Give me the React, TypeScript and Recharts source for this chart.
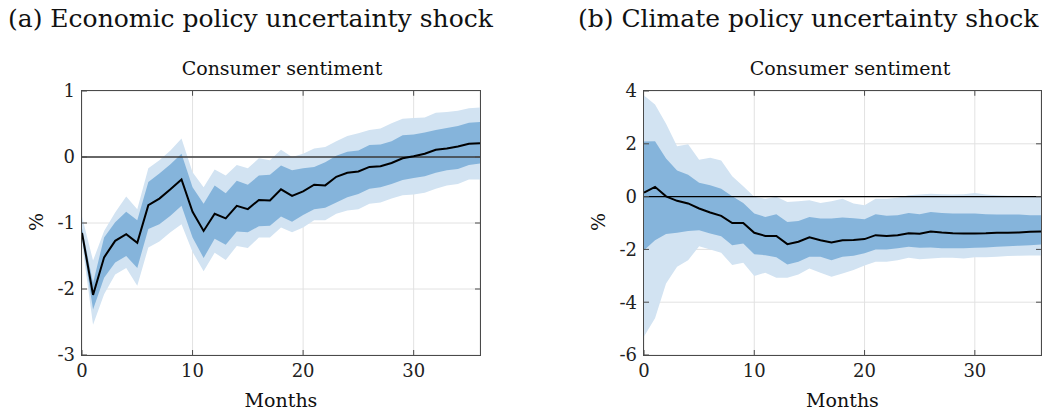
import React from 'react';
import {
  ComposedChart,
  Area,
  Line,
  XAxis,
  YAxis,
  CartesianGrid,
  ReferenceLine
} from 'recharts';

// horizon (months after the shock)
const months = [
  0, 1, 2, 3, 4, 5, 6, 7, 8, 9, 10, 11, 12, 13, 14, 15, 16, 17, 18,
  19, 20, 21, 22, 23, 24, 25, 26, 27, 28, 29, 30, 31, 32, 33, 34, 35, 36
];
const xTicks = [0, 10, 20, 30];

// (a) economic policy uncertainty shock -> consumer sentiment
const epuIrf = [-1.15, -2.09, -1.52, -1.27, -1.17, -1.30, -0.73, -0.63, -0.49, -0.34, -0.83, -1.12, -0.86, -0.93, -0.74, -0.79, -0.65, -0.66, -0.49, -0.59, -0.52, -0.42, -0.43, -0.30, -0.24, -0.22, -0.15, -0.14, -0.09, -0.02, 0.01, 0.05, 0.11, 0.13, 0.16, 0.20, 0.21];
const epuInnerHi = [-1.08, -1.91, -1.22, -0.99, -0.83, -0.96, -0.38, -0.25, -0.11, 0.05, -0.46, -0.71, -0.43, -0.55, -0.36, -0.42, -0.28, -0.27, -0.13, -0.20, -0.17, -0.15, -0.08, 0.02, 0.08, 0.10, 0.18, 0.19, 0.24, 0.33, 0.34, 0.37, 0.41, 0.44, 0.47, 0.52, 0.53];
const epuInnerLo = [-1.22, -2.31, -1.83, -1.60, -1.50, -1.68, -1.09, -1.02, -0.89, -0.74, -1.22, -1.53, -1.24, -1.33, -1.13, -1.14, -1.05, -1.04, -0.90, -0.98, -0.88, -0.79, -0.77, -0.69, -0.61, -0.56, -0.48, -0.46, -0.41, -0.35, -0.32, -0.29, -0.24, -0.20, -0.18, -0.12, -0.10];
const epuOuterHi = [-0.90, -1.57, -1.12, -0.84, -0.60, -0.79, -0.17, -0.05, 0.10, 0.28, -0.23, -0.46, -0.19, -0.28, -0.12, -0.17, -0.02, -0.05, 0.11, 0.00, 0.05, 0.13, 0.15, 0.24, 0.32, 0.36, 0.41, 0.43, 0.51, 0.58, 0.59, 0.60, 0.67, 0.68, 0.70, 0.74, 0.75];
const epuOuterLo = [-1.30, -2.54, -2.08, -1.78, -1.68, -1.95, -1.37, -1.28, -1.14, -1.02, -1.44, -1.73, -1.45, -1.56, -1.35, -1.38, -1.22, -1.22, -1.07, -1.14, -1.07, -0.96, -0.96, -0.86, -0.81, -0.79, -0.71, -0.69, -0.63, -0.58, -0.57, -0.54, -0.48, -0.43, -0.41, -0.34, -0.34];
const epuTicks = [-3, -2, -1, 0, 1];

// (b) climate policy uncertainty shock -> consumer sentiment
const cpuIrf = [0.15, 0.37, 0.01, -0.16, -0.26, -0.45, -0.60, -0.73, -1.00, -1.00, -1.37, -1.49, -1.49, -1.80, -1.71, -1.54, -1.65, -1.74, -1.65, -1.64, -1.61, -1.46, -1.49, -1.46, -1.39, -1.41, -1.32, -1.36, -1.39, -1.40, -1.40, -1.39, -1.37, -1.37, -1.36, -1.33, -1.32];
const cpuInnerHi = [2.09, 2.10, 1.44, 0.99, 0.83, 0.52, 0.43, 0.30, 0.01, -0.24, -0.64, -0.77, -0.67, -0.96, -0.92, -0.77, -0.83, -0.83, -0.79, -0.82, -0.86, -0.67, -0.73, -0.71, -0.62, -0.67, -0.58, -0.62, -0.64, -0.64, -0.64, -0.67, -0.68, -0.68, -0.68, -0.71, -0.71];
const cpuInnerLo = [-2.03, -1.65, -1.42, -1.37, -1.30, -1.27, -1.40, -1.50, -1.84, -1.78, -2.18, -2.22, -2.30, -2.57, -2.47, -2.28, -2.28, -2.41, -2.28, -2.24, -2.15, -2.00, -2.00, -1.96, -1.90, -1.94, -1.93, -1.96, -1.96, -1.96, -1.94, -1.93, -1.90, -1.88, -1.86, -1.84, -1.81];
const cpuOuterHi = [3.83, 3.49, 2.76, 1.91, 1.98, 1.40, 1.47, 1.37, 0.77, 0.39, -0.01, -0.08, -0.01, -0.20, -0.18, -0.14, -0.24, -0.18, -0.08, -0.26, -0.33, -0.08, -0.08, -0.04, 0.05, 0.08, 0.11, 0.09, 0.08, 0.09, 0.14, 0.08, 0.05, 0.03, 0.03, 0.01, 0.01];
const cpuOuterLo = [-5.30, -4.61, -3.29, -2.66, -2.41, -1.88, -2.00, -2.13, -2.59, -2.51, -3.01, -2.88, -3.07, -3.07, -2.95, -2.72, -2.88, -3.04, -2.91, -2.78, -2.61, -2.47, -2.47, -2.41, -2.32, -2.37, -2.34, -2.32, -2.32, -2.34, -2.30, -2.30, -2.28, -2.25, -2.24, -2.23, -2.23];
const cpuTicks = [-6, -4, -2, 0, 2, 4];

const buildRows = (irf: number[], innerLo: number[], innerHi: number[], outerLo: number[], outerHi: number[]) =>
  months.map((m, i) => ({
    m,
    irf: irf[i],
    inner: [innerLo[i], innerHi[i]],
    outer: [outerLo[i], outerHi[i]]
  }));

const epuData = buildRows(epuIrf, epuInnerLo, epuInnerHi, epuOuterLo, epuOuterHi);
const cpuData = buildRows(cpuIrf, cpuInnerLo, cpuInnerHi, cpuOuterLo, cpuOuterHi);

const FONT = '"DejaVu Serif", "Liberation Serif", serif';
const AXIS = '#4a4a4a';
const tickStyle = { fontFamily: FONT, fontSize: 18, fill: '#222' };

// plot areas in page pixels: left, right, top, bottom
const PLOT_TOP = 91;
const PLOT_BOTTOM = 355;

interface PanelProps {
  title: string;
  titleLeft: number;
  subCenter: number;
  gap: number;
  width: number;
  yAxisWidth: number;
  marginRight: number;
  data: ReturnType<typeof buildRows>;
  yTicks: number[];
  zeroColor: string;
}

const Panel: React.FC<PanelProps> = (p) => {
  const { gap, width, yAxisWidth, marginRight, data, yTicks, zeroColor } = p;
  const top = yTicks[yTicks.length - 1];
  const bottom = yTicks[0];
  const plotW = width - yAxisWidth - marginRight;
  return (
    <div style={{ position: 'relative', width, height: 414, marginLeft: gap, flex: 'none' }}>
      <ComposedChart
        width={width}
        height={414}
        data={data}
        margin={{ top: PLOT_TOP, right: marginRight, bottom: 0, left: 0 }}
      >
        <CartesianGrid stroke="#e2e2e2" />
        <XAxis
          dataKey="m"
          type="number"
          domain={[0, 36]}
          ticks={xTicks}
          height={414 - PLOT_BOTTOM}
          stroke={AXIS}
          axisLine={false}
          tickSize={-5}
          tickMargin={14}
          tick={tickStyle}
        />
        <YAxis
          type="number"
          domain={[bottom, top]}
          ticks={yTicks}
          width={yAxisWidth}
          stroke={AXIS}
          axisLine={false}
          tickSize={-5}
          tickMargin={12}
          tick={tickStyle}
        />
        <Area type="linear" dataKey="outer" stroke="none" fill="#d2e3f2" fillOpacity={1} isAnimationActive={false} />
        <Area type="linear" dataKey="inner" stroke="none" fill="#85b4db" fillOpacity={1} isAnimationActive={false} />
        <ReferenceLine y={0} stroke={zeroColor} strokeWidth={1.3} />
        <Line type="linear" dataKey="irf" stroke="#000" strokeWidth={2} dot={false} isAnimationActive={false} />
        {xTicks.slice(1).map((t) => (
          <ReferenceLine key={`tt${t}`} segment={[{ x: t, y: top }, { x: t, y: top - (top - bottom) * 0.018 }]} stroke={AXIS} />
        ))}
        {yTicks.slice(1, -1).map((t) => (
          <ReferenceLine key={`rt${t}`} segment={[{ x: 36, y: t }, { x: 35.55, y: t }]} stroke={AXIS} />
        ))}
      </ComposedChart>
      {/* axes box */}
      <div
        style={{
          position: 'absolute',
          left: yAxisWidth - 0.75,
          top: PLOT_TOP - 0.75,
          width: plotW + 1.5,
          height: PLOT_BOTTOM - PLOT_TOP + 1.5,
          border: `1.5px solid ${AXIS}`,
          boxSizing: 'border-box',
          pointerEvents: 'none'
        }}
      />
      <div style={{ position: 'absolute', left: yAxisWidth + plotW / 2 - 100, width: 200, top: 388, textAlign: 'center', fontFamily: FONT, fontSize: 19, lineHeight: '24px', color: '#111' }}>
        Months
      </div>
      <div style={{ position: 'absolute', left: yAxisWidth - 58, top: 210, width: 24, height: 24, lineHeight: '24px', textAlign: 'center', fontFamily: FONT, fontSize: 19, color: '#111', transform: 'rotate(-90deg)' }}>
        %
      </div>
    </div>
  );
};

export default function App() {
  return (
    <div style={{ position: 'relative', left: -8, top: -8, width: 1054, height: 414, background: '#fff', overflow: 'hidden' }}>
      <div style={{ display: 'flex' }}>
        <Panel
          title="(a) Economic policy uncertainty shock"
          titleLeft={8}
          subCenter={282}
          gap={0}
          width={520}
          yAxisWidth={82}
          marginRight={40}
          data={epuData}
          yTicks={epuTicks}
          zeroColor="#3a3a3a"
        />
        <Panel
          title="(b) Climate policy uncertainty shock"
          titleLeft={578}
          subCenter={850}
          gap={20}
          width={514}
          yAxisWidth={104}
          marginRight={13}
          data={cpuData}
          yTicks={cpuTicks}
          zeroColor="#000"
        />
      </div>
      {[
        { t: '(a) Economic policy uncertainty shock', x: 8, c: 282 },
        { t: '(b) Climate policy uncertainty shock', x: 578, c: 850 }
      ].map((d) => (
        <React.Fragment key={d.t}>
          <div style={{ position: 'absolute', left: d.x, top: 3, fontFamily: FONT, fontSize: 25, lineHeight: '32px', whiteSpace: 'nowrap', color: '#111' }}>
            {d.t}
          </div>
          <div style={{ position: 'absolute', left: d.c - 150, width: 300, top: 56, textAlign: 'center', fontFamily: FONT, fontSize: 19, lineHeight: '24px', color: '#111' }}>
            Consumer sentiment
          </div>
        </React.Fragment>
      ))}
    </div>
  );
}
